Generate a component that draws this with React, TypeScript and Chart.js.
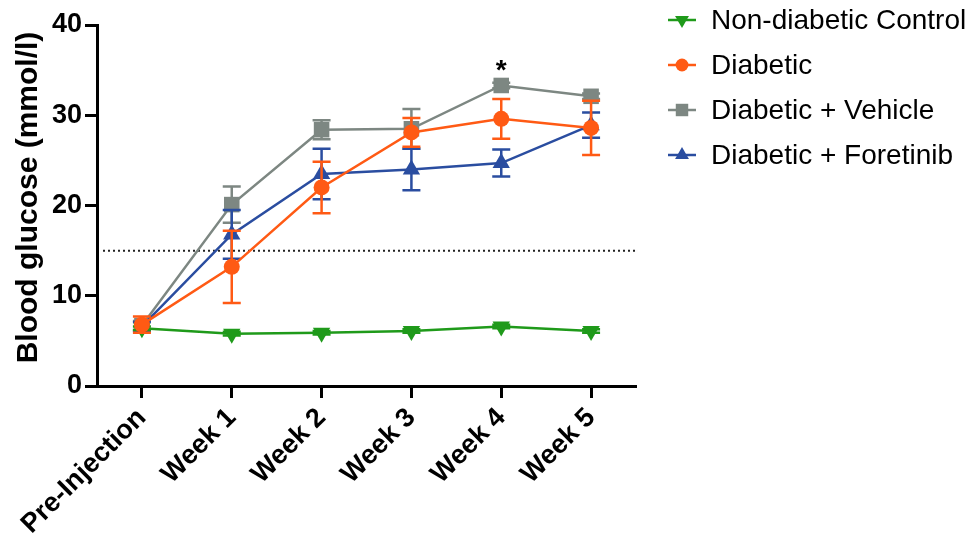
import React, { useEffect, useRef } from "react";
import { Chart, registerables } from "chart.js";

Chart.register(...registerables);

// ---------- data ----------
const categories = ["Pre-Injection", "Week 1", "Week 2", "Week 3", "Week 4", "Week 5"];
const yTicks = [0, 10, 20, 30, 40];
const yTitle = "Blood glucose (mmol/l)";
const seriesNames = ["Non-diabetic Control", "Diabetic", "Diabetic + Vehicle", "Diabetic + Foretinib"];

const controlMean = [6.4, 5.8, 5.9, 6.1, 6.6, 6.1];
const controlSem = [0.2, 0.2, 0.2, 0.2, 0.2, 0.2];
const diabeticMean = [6.8, 13.2, 22.0, 28.1, 29.6, 28.6];
const diabeticSem = [0.9, 4.0, 2.85, 1.6, 2.2, 3.0];
const vehicleMean = [6.7, 20.1, 28.4, 28.5, 33.3, 32.1];
const vehicleSem = [0.5, 2.0, 1.05, 2.2, 0.3, 0.3];
const foretinibMean = [6.6, 16.8, 23.5, 24.0, 24.7, 28.9];
const foretinibSem = [0.5, 2.7, 2.8, 2.3, 1.5, 1.4];

const thresholdValue = 15;
const significanceCategory = "Week 4";
const significanceValue = 35.9;
const significanceLabel = "*";

// ---------- styles ----------
const colors = ["#1f9a1a", "#ff5a14", "#7d8782", "#2a4da0"];
const pointStyles = ["triangle", "circle", "rect", "triangle"];
const pointRotations = [180, 0, 0, 0];
const pointRadii = [10, 8, 11, 10];
const drawOrder = [2, 1, 4, 3];
const means = [controlMean, diabeticMean, vehicleMean, foretinibMean];
const sems = [controlSem, diabeticSem, vehicleSem, foretinibSem];

const FONT = "'Liberation Sans', Arial, Helvetica, sans-serif";

function drawMarker(ctx: CanvasRenderingContext2D, style: string, rot: number, r: number, x: number, y: number, color: string) {
  ctx.save();
  ctx.fillStyle = color;
  ctx.beginPath();
  if (style === "circle") {
    ctx.arc(x, y, r, 0, Math.PI * 2);
  } else if (style === "rect") {
    const s = Math.SQRT1_2 * r;
    ctx.rect(x - s, y - s, 2 * s, 2 * s);
  } else {
    const base = (rot * Math.PI) / 180;
    for (let i = 0; i < 3; i++) {
      const a = base + (i * 2 * Math.PI) / 3;
      const px = x + Math.sin(a) * r;
      const py = y - Math.cos(a) * r;
      if (i === 0) ctx.moveTo(px, py);
      else ctx.lineTo(px, py);
    }
    ctx.closePath();
  }
  ctx.fill();
  ctx.restore();
}

const errorBarPlugin = {
  id: "errorBars",
  beforeDatasetDraw(chart: any, args: any) {
    const i = args.index;
    const ds = chart.data.datasets[i];
    const sem: number[] = ds.sem;
    if (!sem) return;
    const xs = chart.scales.x;
    const ys = chart.scales.y;
    const ctx = chart.ctx;
    ctx.save();
    ctx.strokeStyle = ds.borderColor;
    ctx.lineWidth = 2.5;
    ds.data.forEach((v: number, j: number) => {
      const x = xs.getPixelForValue(j);
      const yTop = ys.getPixelForValue(v + sem[j]);
      const yBot = ys.getPixelForValue(v - sem[j]);
      ctx.beginPath();
      ctx.moveTo(x, yTop);
      ctx.lineTo(x, yBot);
      ctx.moveTo(x - 9, yTop);
      ctx.lineTo(x + 9, yTop);
      ctx.moveTo(x - 9, yBot);
      ctx.lineTo(x + 9, yBot);
      ctx.stroke();
    });
    ctx.restore();
  },
};

const thresholdPlugin = {
  id: "threshold",
  beforeDatasetsDraw(chart: any) {
    const { ctx, chartArea } = chart;
    const y = chart.scales.y.getPixelForValue(thresholdValue);
    ctx.save();
    ctx.strokeStyle = "#222";
    ctx.lineWidth = 2;
    ctx.setLineDash([2, 3]);
    ctx.beginPath();
    ctx.moveTo(chartArea.left + 6, y);
    ctx.lineTo(chartArea.right, y);
    ctx.stroke();
    ctx.restore();
  },
};

const annotationPlugin = {
  id: "extras",
  afterDraw(chart: any) {
    const { ctx, chartArea } = chart;
    const xs = chart.scales.x;
    const ys = chart.scales.y;

    // y axis title
    ctx.save();
    ctx.fillStyle = "#000";
    ctx.font = `bold 30px ${FONT}`;
    ctx.textAlign = "center";
    ctx.textBaseline = "middle";
    ctx.translate(29, (chartArea.top + chartArea.bottom) / 2 - 8);
    ctx.rotate(-Math.PI / 2);
    ctx.fillText(yTitle, 0, 0);
    ctx.restore();

    // significance star
    ctx.save();
    ctx.fillStyle = "#000";
    ctx.font = `bold 28px ${FONT}`;
    ctx.textAlign = "center";
    ctx.textBaseline = "alphabetic";
    const sx = xs.getPixelForValue(categories.indexOf(significanceCategory));
    const sy = ys.getPixelForValue(significanceValue);
    ctx.fillText(significanceLabel, sx, sy + 17);
    ctx.restore();

    // legend
    const lx = chartArea.right + 46;
    const top = 20;
    const gap = 45;
    ctx.save();
    ctx.font = `28px ${FONT}`;
    ctx.textBaseline = "middle";
    ctx.textAlign = "left";
    seriesNames.forEach((name, i) => {
      const y = top + i * gap;
      ctx.strokeStyle = colors[i];
      ctx.lineWidth = 2.5;
      ctx.beginPath();
      ctx.moveTo(lx - 14, y);
      ctx.lineTo(lx + 14, y);
      ctx.stroke();
      drawMarker(ctx, pointStyles[i], pointRotations[i], pointRadii[i] * 0.8, lx, y, colors[i]);
      ctx.fillStyle = "#000";
      ctx.fillText(name, lx + 29, y + 1);
    });
    ctx.restore();
  },
};

export default function App() {
  const ref = useRef<HTMLCanvasElement | null>(null);
  useEffect(() => {
    if (!ref.current) return;
    const chart = new Chart(ref.current, {
      type: "line",
      data: {
        labels: categories,
        datasets: seriesNames.map((name, i) => ({
          label: name,
          data: means[i],
          sem: sems[i],
          borderColor: colors[i],
          backgroundColor: colors[i],
          borderWidth: 2.5,
          pointStyle: pointStyles[i] as any,
          rotation: pointRotations[i],
          pointRadius: pointRadii[i],
          pointBorderWidth: 0,
          pointBackgroundColor: colors[i],
          tension: 0,
          order: drawOrder[i],
        })) as any,
      },
      options: {
        animation: false,
        responsive: true,
        maintainAspectRatio: false,
        layout: { padding: { top: 25, right: 344, left: 0, bottom: 0 } },
        plugins: { legend: { display: false }, tooltip: { enabled: false } },
        scales: {
          x: {
            type: "category",
            offset: true,
            afterFit: (s: any) => {
              s.height = 152;
            },
            grid: {
              drawOnChartArea: false,
              drawTicks: true,
              tickLength: 12,
              tickWidth: 3,
              tickColor: "#000",
              offset: false,
            },
            border: { color: "#000", width: 3 },
            ticks: {
              color: "#000",
              font: { family: FONT, size: 27, weight: "bold" },
              minRotation: 45,
              maxRotation: 45,
              padding: 4,
              autoSkip: false,
            },
          },
          y: {
            min: 0,
            max: 40,
            afterFit: (s: any) => {
              s.width = 97;
            },
            afterBuildTicks: (s: any) => {
              s.ticks = yTicks.map((v) => ({ value: v }));
            },
            grid: {
              drawOnChartArea: false,
              drawTicks: true,
              tickLength: 12,
              tickWidth: 3,
              tickColor: "#000",
            },
            border: { color: "#000", width: 3 },
            ticks: {
              color: "#000",
              font: { family: FONT, size: 27, weight: "bold" },
              padding: 3,
            },
            title: { display: false },
          },
        },
      },
      plugins: [thresholdPlugin, errorBarPlugin, annotationPlugin],
    });
    return () => chart.destroy();
  }, []);

  return (
    <div style={{ position: "absolute", left: 0, top: 0, width: 980, height: 538, background: "#fff" }}>
      <canvas ref={ref} />
    </div>
  );
}
